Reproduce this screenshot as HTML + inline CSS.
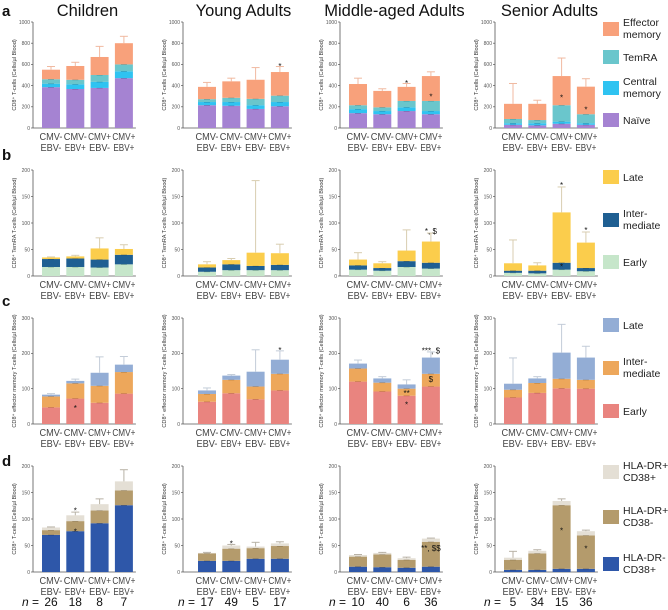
<!DOCTYPE html>
<html><head><meta charset="utf-8">
<style>
body{margin:0;background:#fff;}
svg{display:block;font-family:"Liberation Sans",sans-serif;}
</style></head>
<body>
<svg id="chart" width="668" height="610" viewBox="0 0 668 610"></svg>
<script>
const groups = ["Children","Young Adults","Middle-aged Adults","Senior Adults"];
const catTop = ["CMV-","CMV-","CMV+","CMV+"];
const catBot = ["EBV-","EBV+","EBV-","EBV+"];
const nCounts = [[26,18,8,7],[17,49,5,17],[10,40,6,36],[5,34,15,36]];

const aNaive = [[385,368,378,470],[215,210,180,205],[140,130,160,130],[30,25,40,30]];
const aCentral = [[418,412,435,535],[245,245,215,245],[178,160,195,160],[45,45,60,45]];
const aTemra = [[460,455,500,600],[272,285,275,305],[215,195,255,255],[85,75,215,130]];
const aEffector = [[550,585,670,800],[388,440,455,528],[415,350,388,490],[228,228,490,390]];
const aErr = [[580,620,770,865],[430,470,570,580],[470,370,420,530],[420,262,660,465]];
const aTicks = [0,200,400,600,800,1000];

const bEarly = [[17,17,16,22],[8,11,11,11],[12,10,17,14],[6,5,12,9]];
const bInter = [[32,33,31,40],[16,22,19,21],[20,15,28,25],[10,10,25,15]];
const bLate = [[35,37,52,51],[22,30,44,43],[31,24,48,65],[24,20,120,63]];
const bErr = [[36,39,72,59],[27,33,180,60],[44,27,87,81],[68,25,168,83]];
const bTicks = [0,50,100,150,200];

const cEarly = [[47,72,60,86],[63,87,70,95],[120,92,80,106],[75,88,101,100]];
const cInter = [[78,115,108,147],[85,125,106,142],[157,117,100,142],[97,116,128,125]];
const cLate = [[83,122,145,168],[95,137,148,182],[171,129,112,188],[114,129,202,188]];
const cErr = [[86,127,190,191],[102,140,210,207],[181,134,125,204],[187,134,282,220]];
const cTicks = [0,100,200,300];

const dNeg = [[70,77,92,126],[21,21,25,25],[10,9,8,10],[4,4,6,6]];
const dPosNeg = [[79,96,116,154],[35,44,45,49],[29,33,23,57],[23,35,126,69]];
const dPosPos = [[84,107,128,171],[36,50,48,54],[32,36,26,63],[27,40,134,77]];
const dErr = [[85,113,138,193],[37,52,56,57],[33,37,28,64],[39,42,138,79]];
const dTicks = [0,50,100,150,200];

const notes = [
 ["a",1,3,585,"*"],["a",2,2,425,"*"],["a",2,3,295,"*"],["a",3,2,290,"*"],["a",3,3,175,"*"],
 ["b",2,3,85,"*, $"],["b",3,2,172,"*"],["b",3,3,87,"*"],["b",3,2,18,"*"],
 ["c",0,1,45,"*"],["c",1,3,210,"*"],["c",2,3,208,"***, $"],["c",2,3,128,"$"],["c",2,2,88,"**"],["c",2,2,55,"*"],
 ["d",0,1,116,"*"],["d",0,1,76,"*"],["d",1,1,54,"*"],["d",2,3,45,"**, $$"],["d",3,2,78,"*"],["d",3,3,44,"*"]
];

const svg = document.getElementById('chart');
const NS = "http://www.w3.org/2000/svg";
function mk(tag, attrs, parent){
  const e = document.createElementNS(NS, tag);
  for (const k in attrs) e.setAttribute(k, attrs[k]);
  (parent||svg).appendChild(e);
  return e;
}
const axisX = [33,183,340,495];
const barX0 = [51,207,358,513];
const barStep = 24.3, barW = 18;
const zeroY = {a:128,b:276,c:424,d:572};
const plotH = 106;

const rows = [
 {id:"a", ticks:aTicks, max:1000, layers:[aNaive,aCentral,aTemra,aEffector], err:aErr,
  colors:["#a583d2","#2fc3f1","#6ac6cc","#f8a17b"], dark:["#6a4f90","#1d7fa3","#3e8f95","#f0b9a0"],
  ylabel:"CD8⁺ T-cells (Cells/µl Blood)"},
 {id:"b", ticks:bTicks, max:200, layers:[bEarly,bInter,bLate], err:bErr,
  colors:["#c6e6ca","#1f5f92","#fbcd4c"], dark:["#7fa884","#123d60","#d8cdb0"],
  ylabel:"CD8⁺ TemRA T-cells (Cells/µl Blood)"},
 {id:"c", ticks:cTicks, max:300, layers:[cEarly,cInter,cLate], err:cErr,
  colors:["#e9847f","#eda75b","#93add5"], dark:["#a54f4b","#a8702e","#c3ccd8"],
  ylabel:"CD8⁺ effector memory T-cells (Cells/µl Blood)"},
 {id:"d", ticks:dTicks, max:200, layers:[dNeg,dPosNeg,dPosPos], err:dErr,
  colors:["#2e57a9","#b49b6c","#e4dfd5"], dark:["#1b3670","#7a6541","#b8b2a6"],
  ylabel:"CD8⁺ T-cells (Cells/µl Blood)"}
];

function yScale(row, v){ return zeroY[row.id] - v/row.max*plotH; }

groups.forEach((g,gi)=>{
  const t = mk('text',{x:barX0[gi]+barStep*1.5, y:16, 'text-anchor':'middle','font-size':16.5,fill:'#111'});
  t.textContent = g;
  
  
});
[["a",16],["b",160],["c",306],["d",466]].forEach(([l,y])=>{
  const t = mk('text',{x:2,y:y,'font-size':15,'font-weight':'bold',fill:'#111'});
  t.textContent = l;
  
  
});

rows.forEach(row=>{
  const z = zeroY[row.id];
  groups.forEach((g,gi)=>{
    const gEl = mk('g',{});
    
    
    const ax = axisX[gi];
    const yl = mk('line',{x1:ax,y1:z-plotH,x2:ax,y2:z,stroke:'#555','stroke-width':0.8},gEl);
    
    
    const xEnd = barX0[gi]+barStep*3+barW/2+3;
    const xl = mk('line',{x1:ax,y1:z,x2:xEnd,y2:z,stroke:'#555','stroke-width':0.8},gEl);
    
    
    row.ticks.forEach(tv=>{
      const ty = yScale(row,tv);
      mk('line',{x1:ax-2,y1:ty,x2:ax,y2:ty,stroke:'#555','stroke-width':0.7},gEl);
      const tt = mk('text',{x:ax-3,y:ty+1.8,'text-anchor':'end','font-size':5,fill:'#555'},gEl);
      tt.textContent = tv;
      
      
    });
    const yt = mk('text',{x:0,y:0,'text-anchor':'middle','font-size':5.6,fill:'#333',
      transform:`translate(${ax-17},${z-plotH/2}) rotate(-90)`},gEl);
    yt.textContent = row.ylabel;
    
    
    for(let b=0;b<4;b++){
      const cx = barX0[gi]+b*barStep;
      let prev = 0;
      row.layers.forEach((layer,li)=>{
        const v = layer[gi][b];
        const y1 = yScale(row,v), y0 = yScale(row,prev);
        const r = mk('rect',{x:cx-barW/2,y:y1,width:barW,height:Math.max(0,y0-y1),fill:row.colors[li]},gEl);
        
        
        if(li<row.layers.length-1){
          mk('line',{x1:cx-3,y1:y1,x2:cx+3,y2:y1,stroke:row.dark[li],'stroke-width':0.8},gEl);
        }
        prev = v;
      });
      const topV = row.layers[row.layers.length-1][gi][b];
      const eV = row.err[gi][b];
      const ec = row.dark[row.dark.length-1];
      const el = mk('line',{x1:cx,y1:yScale(row,topV),x2:cx,y2:yScale(row,eV),stroke:ec,'stroke-width':1},gEl);
      
      
      mk('line',{x1:cx-4,y1:yScale(row,eV),x2:cx+4,y2:yScale(row,eV),stroke:ec,'stroke-width':1},gEl);
      const c1 = mk('text',{x:cx-11.5,y:z+12,'font-size':10.5,fill:'#444',textLength:23,lengthAdjust:'spacingAndGlyphs'},gEl);
      c1.textContent = catTop[b];
      
      
      const c2 = mk('text',{x:cx-10.5,y:z+23,'font-size':10.5,fill:'#444',textLength:21,lengthAdjust:'spacingAndGlyphs'},gEl);
      c2.textContent = catBot[b];
      
      
    }
  });
});

notes.forEach(([rid,gi,b,v,txt])=>{
  const row = rows.find(r=>r.id===rid);
  const t = mk('text',{x:barX0[gi]+b*barStep,y:yScale(row,v)+3,'text-anchor':'middle','font-size':8,fill:'#111'});
  t.textContent = txt;
  
  
});

groups.forEach((g,gi)=>{
  const nl = mk('text',{x:barX0[gi]-12,y:606,'text-anchor':'end','font-size':12,fill:'#111'});
  nl.innerHTML = '<tspan font-style="italic">n</tspan> =';
  
  
  nCounts[gi].forEach((n,b)=>{
    const t = mk('text',{x:barX0[gi]+b*barStep,y:606,'text-anchor':'middle','font-size':12,fill:'#111'});
    t.textContent = n;
    
    
  });
});

const legends = [
 {items:[["Effector","memory"],["TemRA"],["Central","memory"],["Naïve"]], colors:["#f8a17b","#6ac6cc","#2fc3f1","#a583d2"], ys:[22,50,81,113]},
 {items:[["Late"],["Inter-","mediate"],["Early"]], colors:["#fbcd4c","#1f5f92","#c6e6ca"], ys:[170,213,255]},
 {items:[["Late"],["Inter-","mediate"],["Early"]], colors:["#93add5","#eda75b","#e9847f"], ys:[318,361,404]},
 {items:[["HLA-DR+","CD38+"],["HLA-DR+","CD38-"],["HLA-DR-","CD38+"]], colors:["#e4dfd5","#b49b6c","#2e57a9"], ys:[465,510,557]}
];
legends.forEach(L=>{
  L.items.forEach((lines,i)=>{
    const y = L.ys[i];
    const r = mk('rect',{x:603,y:y,width:16,height:14,fill:L.colors[i]});
    
    
    lines.forEach((ln,j)=>{
      const off = lines.length===1 ? 11 : 4 + j*12;
      const t = mk('text',{x:623,y:y+off,'font-size':10.5,fill:'#222'});
      t.textContent = ln;
      
      
    });
  });
});
</script>
</body></html>
